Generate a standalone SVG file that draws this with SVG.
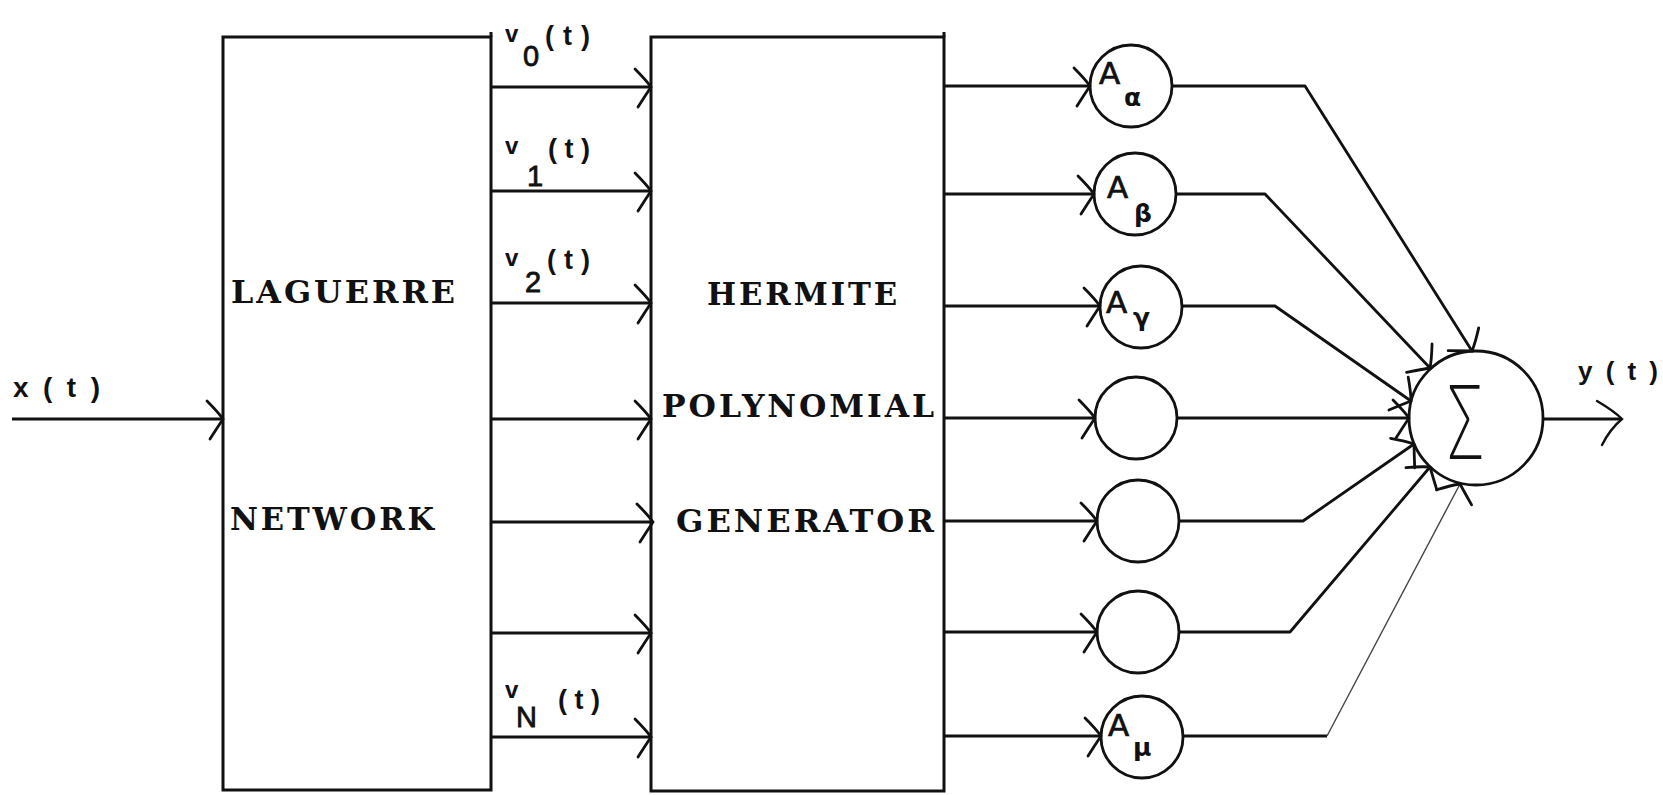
<svg xmlns="http://www.w3.org/2000/svg" width="1663" height="795" viewBox="0 0 1663 795">
<style>
.box{fill:none;stroke:#111;stroke-width:3}
.node{fill:#fff;stroke:#111;stroke-width:2.8}
.ln{fill:none;stroke:#111;stroke-width:2.8;stroke-linejoin:round}
.thin{stroke-width:1.4;stroke:#444}
.blk{font-family:"DejaVu Serif","Liberation Serif",serif;font-weight:bold;font-size:32px;letter-spacing:3px;fill:#111}
.sig{font-family:"Liberation Sans","DejaVu Sans",sans-serif;font-weight:bold;fill:#111}
.v{font-family:"Liberation Sans","DejaVu Sans",sans-serif;font-size:29px;fill:#111;stroke:#111;stroke-width:0.8}
.vb{font-family:"Liberation Sans","DejaVu Sans",sans-serif;font-weight:bold;font-size:24px;fill:#111}
.vt{font-family:"Liberation Sans","DejaVu Sans",sans-serif;font-weight:bold;font-size:27px;fill:#111}
.amp{font-family:"DejaVu Sans","Liberation Sans",sans-serif;font-size:31px;fill:#111;stroke:#111;stroke-width:0.7}
.sub{font-family:"DejaVu Sans","Liberation Sans",sans-serif;font-weight:bold;font-size:25px;fill:#111}
</style>
<defs>
<marker id="arr" markerUnits="userSpaceOnUse" viewBox="-20 -25 25 50" refX="0" refY="0" markerWidth="25" markerHeight="50" orient="auto" overflow="visible">
<path d="M -16 -18 Q -5 -7 0 0 Q -6 9 -13 20" fill="none" stroke="#111" stroke-width="2.8" stroke-linecap="round"/>
</marker>
<marker id="arrBig" markerUnits="userSpaceOnUse" viewBox="-30 -30 35 60" refX="0" refY="0" markerWidth="35" markerHeight="60" orient="auto" overflow="visible">
<path d="M -25 -18 Q -8 -8 0 0 Q -12 10 -20 26" fill="none" stroke="#111" stroke-width="2.4" stroke-linecap="round"/>
</marker>
</defs>
<rect width="1663" height="795" fill="#fff"/>

<g id="laguerre">
<rect class="box" x="223" y="37" width="268" height="753"/>
<path class="box" d="M 491 37 L 491 32"/>
<text class="blk" x="231" y="303" textLength="227" lengthAdjust="spacingAndGlyphs">LAGUERRE</text>
<text class="blk" x="230" y="530" textLength="207" lengthAdjust="spacingAndGlyphs">NETWORK</text>
</g>

<g id="hermite">
<rect class="box" x="651" y="37" width="293" height="754"/>
<path class="box" d="M 944 37 L 944 32"/>
<text class="blk" x="707" y="305" textLength="193" lengthAdjust="spacingAndGlyphs">HERMITE</text>
<text class="blk" x="662" y="417" textLength="275" lengthAdjust="spacingAndGlyphs">POLYNOMIAL</text>
<text class="blk" x="676" y="532" textLength="261" lengthAdjust="spacingAndGlyphs">GENERATOR</text>
</g>

<g id="amp-alpha">
<circle class="node" cx="1131" cy="86" r="41"/>
<text class="amp" x="1099" y="84">A</text>
<text class="sub" x="1124" y="106">α</text>
</g>
<g id="amp-beta">
<circle class="node" cx="1135" cy="194" r="41"/>
<text class="amp" x="1107" y="198">A</text>
<text class="sub" x="1134" y="222">β</text>
</g>
<g id="amp-gamma">
<circle class="node" cx="1141" cy="307" r="41"/>
<text class="amp" x="1106" y="313">A</text>
<text class="sub" x="1133" y="326">γ</text>
</g>
<g id="amp-4">
<circle class="node" cx="1136" cy="418" r="41"/>
</g>
<g id="amp-5">
<circle class="node" cx="1138" cy="521" r="41"/>
</g>
<g id="amp-6">
<circle class="node" cx="1138" cy="632" r="41"/>
</g>
<g id="amp-mu">
<circle class="node" cx="1142" cy="737" r="41"/>
<text class="amp" x="1108" y="736">A</text>
<text class="sub" x="1133" y="756">μ</text>
</g>

<g id="summer">
<circle class="node" cx="1476" cy="418" r="67"/>
<text x="0" y="0" transform="translate(1448,459) scale(0.62,1)" font-family="Roboto,Lato,'Noto Sans',sans-serif" font-weight="200" font-size="104" fill="#111">Σ</text>
</g>

<g id="connectors">
<path class="ln" d="M 12 419 L 223 419" marker-end="url(#arr)"/>
<path class="ln" d="M 491 87 L 651 87" stroke-width="3.6" marker-end="url(#arr)"/>
<path class="ln" d="M 491 191 L 651 191" stroke-width="2.2" marker-end="url(#arr)"/>
<path class="ln" d="M 491 303 L 651 303" marker-end="url(#arr)"/>
<path class="ln" d="M 491 419 L 651 419" stroke-width="2.2" marker-end="url(#arr)"/>
<path class="ln" d="M 491 522 L 653 522" stroke-width="3.4" marker-end="url(#arr)"/>
<path class="ln" d="M 491 633 L 651 633" marker-end="url(#arr)"/>
<path class="ln" d="M 491 737 L 651 737" marker-end="url(#arr)"/>

<path class="ln" d="M 944 86 L 1090 86" marker-end="url(#arr)"/>
<path class="ln" d="M 944 194 L 1094 194" marker-end="url(#arr)"/>
<path class="ln" d="M 944 306 L 1100 306" marker-end="url(#arr)"/>
<path class="ln" d="M 944 418 L 1095 418" marker-end="url(#arr)"/>
<path class="ln" d="M 944 521 L 1097 521" marker-end="url(#arr)"/>
<path class="ln" d="M 944 632 L 1097 632" marker-end="url(#arr)"/>
<path class="ln" d="M 944 736 L 1101 736" marker-end="url(#arr)"/>

<path class="ln" d="M 1172 86 L 1305 86 L 1472 351" marker-end="url(#arr)"/>
<path class="ln" d="M 1176 194 L 1265 194 L 1430 368" marker-end="url(#arr)"/>
<path class="ln" d="M 1182 306 L 1275 306 L 1411 401" marker-end="url(#arr)"/>
<path class="ln" d="M 1177 418 L 1409 418" marker-end="url(#arr)"/>
<path class="ln" d="M 1179 521 L 1303 521 L 1414 444" marker-end="url(#arr)"/>
<path class="ln" d="M 1179 632 L 1290 632 L 1430 467" stroke-width="2.2" marker-end="url(#arr)"/>
<path class="ln" d="M 1183 736 L 1327 736" />
<path class="ln thin" d="M 1327 736 L 1460 484" marker-end="url(#arr)"/>

<path class="ln" d="M 1543 419 L 1622 419" stroke-width="2.4" marker-end="url(#arrBig)"/>
</g>

<g id="signal-labels">
<text class="sig" x="13" y="397" font-size="28" textLength="87" lengthAdjust="spacing">x(t)</text>
<text class="sig" x="1578" y="380" font-size="26" textLength="80" lengthAdjust="spacing">y(t)</text>

<text class="vb" x="505" y="42">v</text>
<text class="v" x="523" y="66">0</text>
<text class="vt" x="545" y="45" textLength="45" lengthAdjust="spacing">(t)</text>

<text class="vb" x="505" y="154">v</text>
<text class="v" x="527" y="186">1</text>
<text class="vt" x="548" y="158" textLength="42" lengthAdjust="spacing">(t)</text>

<text class="vb" x="505" y="266">v</text>
<text class="v" x="525" y="292">2</text>
<text class="vt" x="547" y="269" textLength="43" lengthAdjust="spacing">(t)</text>

<text class="vb" x="505" y="698">v</text>
<text class="v" x="516" y="727">N</text>
<text class="vt" x="558" y="709" textLength="42" lengthAdjust="spacing">(t)</text>
</g>
</svg>
